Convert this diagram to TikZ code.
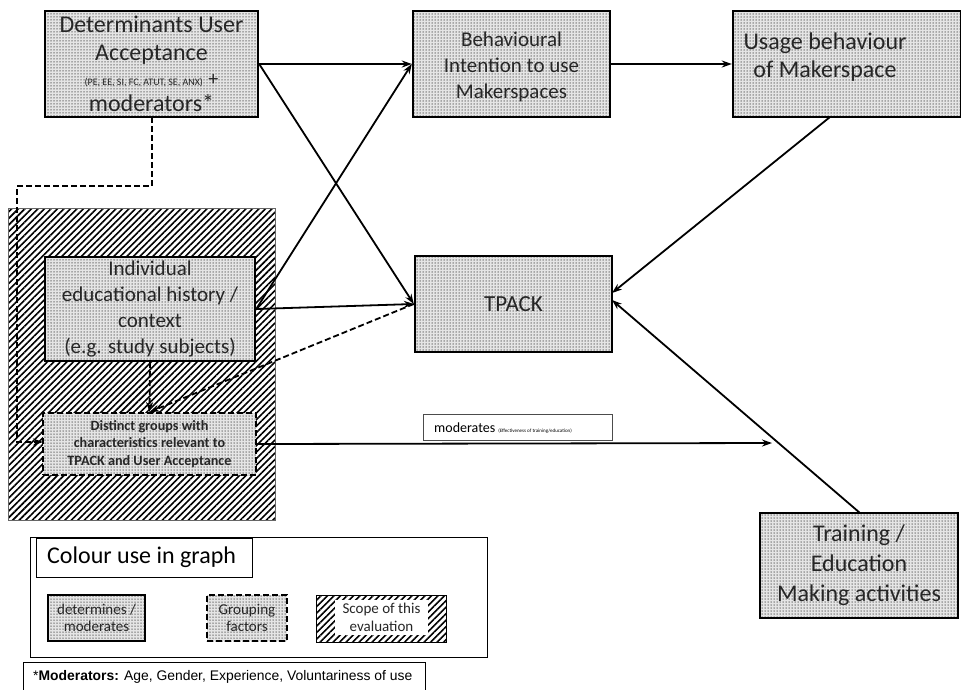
\documentclass[tikz,border=0pt]{standalone}
\usepackage{fontspec}
\setmainfont{Carlito}
\newfontfamily\arialf{Liberation Sans}
\usetikzlibrary{patterns.meta,arrows.meta}
\begin{document}
\begin{tikzpicture}[x=1pt,y=-1pt,
  dotfill/.style={preaction={fill=black!10},pattern={Dots[distance=3pt,radius=0.75pt]},pattern color=black!60},
  mainbox/.style={draw=black, line width=2.4pt, dotfill, inner sep=0pt, align=center, text=black!85},
  groupbox/.style={draw=black, line width=2pt, dash pattern=on 6pt off 3pt, dotfill, inner sep=0pt, align=center, text=black!85},
  hatchfill/.style={pattern={Lines[angle=45,distance=4.6pt,line width=1.6pt]},pattern color=black},
  conn/.style={line width=1.8pt, -{Stealth[length=10pt,width=7pt]}},
  dconn/.style={line width=1.8pt, dash pattern=on 6pt off 3pt, -{Stealth[length=10pt,width=7pt]}},
  plain/.style={draw=black, line width=0.8pt, fill=white, inner sep=0pt},
  bigf/.style={font=\fontsize{24}{28}\selectfont},
  midf/.style={font=\fontsize{21}{26}\selectfont}
]
\useasboundingbox (0,0) rectangle (961,689);
\fill[white] (0,0) rectangle (961,689);

% scope of evaluation (hatched)
\path[hatchfill, draw=black!60, line width=0.8pt] (8,208) rectangle (275,520);

% main boxes
\node[mainbox, bigf, minimum width=213pt, minimum height=106pt] (det) at (151.5,64)
  {Determinants User\\Acceptance\\[-3pt]{\fontsize{10}{12}\selectfont (PE, EE, SI, FC, ATUT, SE, ANX)} {\fontsize{20}{20}\selectfont +}\\[-2pt]moderators*};
\node[mainbox, midf, minimum width=197pt, minimum height=106pt] (beh) at (511.5,64) {};
\node[midf, align=center, text=black!85] (behtxt) at (511.5,67)
  {Behavioural\\Intention to use\\Makerspaces};
\node[mainbox, minimum width=228pt, minimum height=106pt] (usage) at (847,64) {};
\node[bigf, align=center, text=black!85] (usagetxt) at (825,57) {Usage behaviour\\of Makerspace};
\node[mainbox, font=\fontsize{23}{26}\selectfont, minimum width=197pt, minimum height=96pt] (tpack) at (513.5,304) {TPACK};
\node[mainbox, midf, minimum width=210pt, minimum height=104pt] (indiv) at (150,309)
  {Individual\\educational history /\\context\\(e.g. study subjects)};
\node[groupbox, font=\bfseries\fontsize{14.2}{17.5}\selectfont, minimum width=213pt, minimum height=62pt] (distinct) at (149.5,444)
  {Distinct groups with\\characteristics relevant to\\TPACK and User Acceptance};
\node[mainbox, font=\fontsize{24}{30}\selectfont, minimum width=198pt, minimum height=105pt] (train) at (859,565.5)
  {Training /\\Education\\Making activities};

% moderates label
\node[plain, draw=black!70, minimum width=189pt, minimum height=26pt, anchor=north west, text=black!90] (modlab) at (423,414) {};
\node[anchor=west, inner sep=0pt, font=\fontsize{14}{16}\selectfont] (modtxt) at (434,428)
  {moderates {\fontsize{5}{6}\selectfont (Effectiveness of training/education)}};

% connectors
\coordinate (usageout) at (830,117);
\coordinate (tpin1) at (612,293);
\coordinate (tpin2) at (612,300);
\coordinate (trainout) at (860,513);
\coordinate (modend) at (772,443);
\coordinate (distin) at (43,442);
\coordinate (detdash) at (152,117);

\draw[conn] (det.east) -- (beh.west);
\draw[conn] (det.east) -- (tpack.west);
\draw[conn] (indiv.east) -- (beh.west);
\draw[conn] (indiv.east) -- (tpack.west);
\draw[conn] (beh.east) -- (usage.west);
\draw[conn] (usageout) -- (tpin1);
\draw[conn] (trainout) -- (tpin2);
\draw[conn] (distinct.east) -- (modend);

\draw[dconn] (detdash) -- (152,186) -- (17,186) -- (17,442) -- (distin);
\draw[dconn] (indiv.south) -- (distinct.north);
\draw[dconn] (tpack.west) -- (distinct.north);

% legend
\node[plain, minimum width=457pt, minimum height=120pt, anchor=north west] (legend) at (30,537) {};
\node[plain, minimum width=216pt, minimum height=39pt, anchor=north west] (legtitle) at (36,538) {};
\node[anchor=west, inner sep=0pt, font=\fontsize{24}{28}\selectfont] (legtitletxt) at (47,557) {Colour use in graph};
\node[mainbox, font=\fontsize{15}{17}\selectfont, minimum width=97pt, minimum height=46pt, line width=2.2pt] (leg1) at (96.5,618) {determines /\\moderates};
\node[groupbox, font=\fontsize{15}{17}\selectfont, minimum width=80pt, minimum height=46pt] (leg2) at (247,618) {Grouping\\factors};
\path[hatchfill, draw=black, line width=0.8pt] (316,595) rectangle (446,642);
\node[fill=white, inner sep=0pt, minimum width=93pt, minimum height=35pt, align=center, font=\fontsize{15}{18}\selectfont, text=black!85] (leg3) at (381.5,617.5) {Scope of this\\evaluation};

% footnote
\node[plain, minimum width=402pt, minimum height=32pt, anchor=north west] (foot) at (23,662) {};
\node[anchor=west, inner sep=0pt, font=\arialf\fontsize{13.9}{16}\selectfont] (foottxt) at (33,677)
  {*\textbf{Moderators:} Age, Gender, Experience, Voluntariness of use};
\end{tikzpicture}
\end{document}
